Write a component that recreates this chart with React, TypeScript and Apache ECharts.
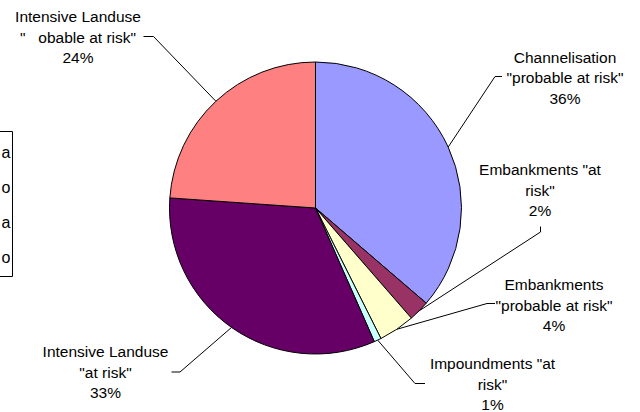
import React, { useEffect, useRef } from 'react';
import * as echarts from 'echarts';

// ---- data ----
const categories = [
  'Channelisation "probable at risk"',
  'Embankments "at risk"',
  'Embankments "probable at risk"',
  'Impoundments "at risk"',
  'Intensive Landuse "at risk"',
  'Intensive Landuse "probable at risk"',
];
const values = [36.3, 2.3, 4.0, 0.8, 32.7, 23.9];
const labelTexts = [
  'Channelisation\n"probable at risk"',
  'Embankments "at\nrisk"',
  'Embankments\n"probable at risk"',
  'Impoundments "at\nrisk"',
  'Intensive Landuse\n"at risk"',
  'Intensive Landuse\n"\u00a0\u00a0\u00a0obable at risk"',
];
const legendTails = ['a', 'o', 'a', 'o'];

// ---- styles / layout ----
const colors = ['#9999FF', '#993366', '#FFFFCC', '#CCFFFF', '#660066', '#FF8080'];
const labelCenters: number[][] = [
  [565, 77.5],
  [540, 190],
  [554, 305],
  [492.5, 384],
  [105.5, 372],
  [78, 37],
];
const leaderTails: number[][][] = [
  [[495, 76.5], [502, 76.5]],
  [[540.5, 232], [540.5, 226.5]],
  [[487, 303.5], [495, 303.5]],
  [[415, 383.5], [425, 383.5]],
  [[180, 372], [171.5, 372]],
  [[153.5, 36.5], [143.5, 36.5]],
];
const legendRowY = [152, 187, 222, 257];
const FONT = '"Liberation Sans", Arial, sans-serif';

export default function App() {
  const ref = useRef<HTMLDivElement>(null);
  useEffect(() => {
    document.body.style.margin = '0';
    const chart = echarts.init(ref.current!, null, { renderer: 'svg' });
    chart.setOption({
      animation: false,
      backgroundColor: '#ffffff',
      graphic: [
        {
          type: 'rect',
          shape: { x: -50, y: 131.5, width: 62.5, height: 145 },
          style: { fill: '#ffffff', stroke: '#000000', lineWidth: 1 },
          z: 10,
        },
        ...legendTails.map((t, i) => ({
          type: 'text',
          x: 10.5,
          y: legendRowY[i],
          z: 11,
          style: {
            text: t,
            align: 'right',
            verticalAlign: 'middle',
            fill: '#000000',
            font: '16px "Liberation Sans", Arial, sans-serif',
          },
        })),
      ],
      series: [
        {
          type: 'pie',
          center: [315.5, 208],
          radius: 146,
          startAngle: 90,
          clockwise: true,
          avoidLabelOverlap: false,
          minShowLabelAngle: 0,
          emphasis: { disabled: true },
          data: categories.map((n, i) => ({
            name: n,
            value: values[i],
            itemStyle: { color: colors[i] },
          })),
          itemStyle: { borderColor: '#000000', borderWidth: 1 },
          label: {
            show: true,
            position: 'outside',
            formatter: (p: any) => labelTexts[p.dataIndex] + '\n' + Math.round(p.percent) + '%',
            color: '#000000',
            fontFamily: FONT,
            fontSize: 15.5,
            lineHeight: 20.5,
            align: 'center',
          },
          labelLine: {
            show: true,
            length: 10,
            length2: 10,
            lineStyle: { color: '#000000', width: 1 },
          },
          labelLayout: (params: any) => {
            const i = params.dataIndex;
            const p0 = params.labelLinePoints ? params.labelLinePoints[0] : [0, 0];
            return {
              x: labelCenters[i][0],
              y: labelCenters[i][1],
              align: 'center',
              verticalAlign: 'middle',
              labelLinePoints: [p0, leaderTails[i][0], leaderTails[i][1]],
            };
          },
        },
      ],
    });
    return () => chart.dispose();
  }, []);
  return <div ref={ref} style={{ width: 640, height: 412 }} />;
}
